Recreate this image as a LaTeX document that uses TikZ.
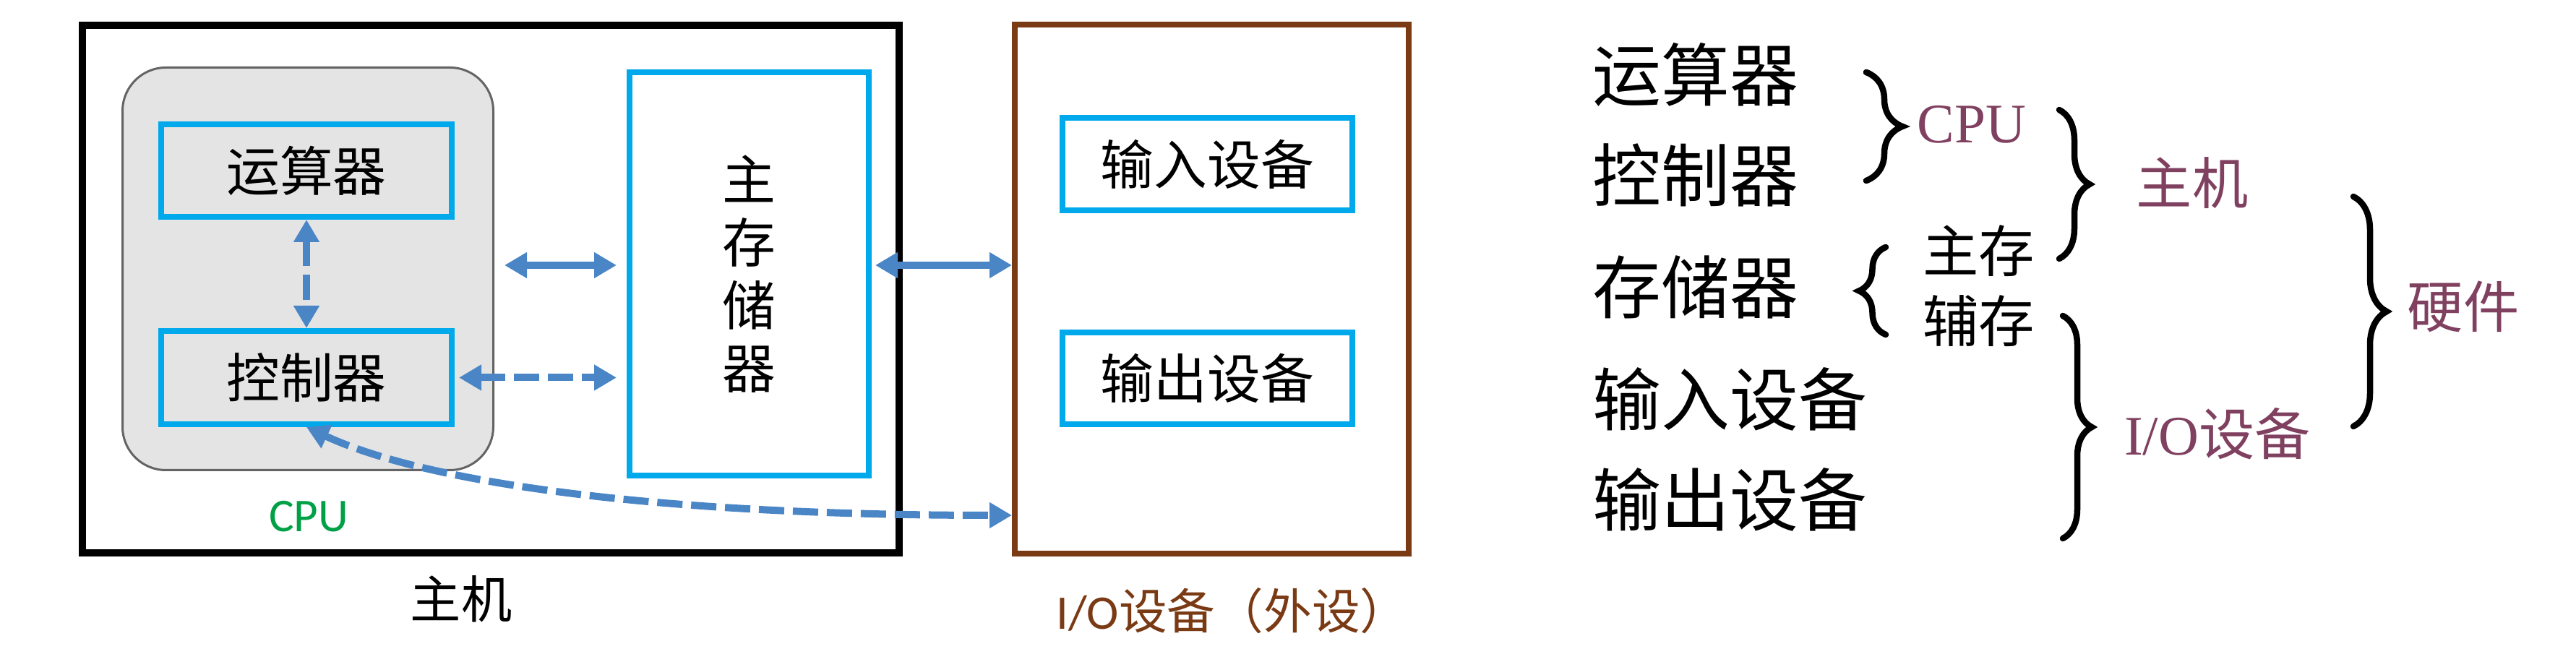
\documentclass[tikz,border=0pt]{standalone}
\usepackage{fontspec}
\setmainfont{Liberation Serif}
\newfontfamily\cjk{Noto Sans CJK SC}
\newfontfamily\calibri{Carlito}
\usetikzlibrary{positioning}
\usetikzlibrary{arrows.meta}
\usetikzlibrary{decorations.pathreplacing}
\definecolor{unitc}{RGB}{0,168,236}
\definecolor{linkc}{RGB}{74,134,198}
\definecolor{cpufillc}{RGB}{228,228,228}
\definecolor{cpudrawc}{RGB}{100,100,100}
\definecolor{cpulabelc}{RGB}{0,160,70}
\definecolor{ioc}{RGB}{122,58,20}
\definecolor{classc}{RGB}{128,64,96}

\tikzset{
  unitbox/.style={draw=unitc, line width=0.08cm, shape=rectangle, minimum width=4.02cm, minimum height=1.28cm, font=\cjk\fontsize{21pt}{25pt}\selectfont},
  link/.style={draw=linkc, line width=0.1cm, {Triangle[width=0.34cm,length=0.31cm]}-{Triangle[width=0.34cm,length=0.31cm]}},
  dashlink/.style={link, dash pattern=on 0.35cm off 0.12cm},
  bigtext/.style={anchor=west, inner sep=0pt, font=\cjk\fontsize{27pt}{32pt}\selectfont},
  grouptext/.style={inner sep=0pt, text=classc, font=\cjk\fontsize{22pt}{26pt}\selectfont},
  bracket/.style={decorate, line width=0.085cm, line cap=round, decoration={brace, amplitude=#1}},
}

\begin{document}
\begin{tikzpicture}
\useasboundingbox (0,0) rectangle (35.64,-9.16);

% host side
\node[draw=black, line width=0.1cm, shape=rectangle, minimum width=11.30cm, minimum height=7.30cm]
(host) at (6.79,-4.00) {};
\node[draw=cpudrawc, fill=cpufillc, line width=0.03cm, rounded corners=0.6cm, minimum width=5.13cm, minimum height=5.57cm]
(cpu) at (4.26,-3.72) {};
\node[unitbox] (alu) at (4.24,-2.36) {运算器};
\node[unitbox, minimum height=1.29cm] (cu) at (4.24,-5.225) {控制器};
\node[draw=unitc, line width=0.08cm, shape=rectangle, minimum width=3.31cm, minimum height=5.58cm, align=center,
  font=\cjk\fontsize{21pt}{24.8pt}\selectfont]
(mem) at (10.365,-3.79) {主\\存\\储\\器};
\node[text=cpulabelc, font=\calibri\fontsize{18.5pt}{22pt}\selectfont] (cpulabel) at (4.27,-7.15) {CPU};
\node[font=\cjk\fontsize{20pt}{24pt}\selectfont] (hostlabel) at (6.38,-8.29) {主机};

% i/o side
\node[draw=ioc, line width=0.08cm, shape=rectangle, minimum width=5.45cm, minimum height=7.32cm]
(io) at (16.765,-4.00) {};
\node[unitbox, minimum width=4.01cm] (inp) at (16.705,-2.27) {输入设备};
\node[unitbox, minimum width=4.01cm, minimum height=1.27cm] (outp) at (16.705,-5.235) {输出设备};
\node[text=ioc, font=\fontsize{19pt}{23pt}\selectfont] (iolabel) at (17.05,-8.45) {{\calibri I/O}{\cjk 设备（外设）}};

% links
\draw[dashlink] (alu.south) -- (cu.north);
\draw[link, shorten <=0.14cm, shorten >=0.14cm] ([yshift=0.05cm]cpu.east) -- ([yshift=0.05cm]cpu.east -| mem.west);
\draw[dashlink, shorten <=0.06cm, shorten >=0.14cm] (cu.east) -- (cu.east -| mem.west);
\draw[link, shorten <=0.05cm] ([yshift=0.12cm]mem.east) -- ([yshift=0.12cm]mem.east -| io.west);
\draw[dashlink] (cu.south) to[out=-25, in=180, out distance=1.8cm, in distance=5cm] ([yshift=-3.13cm]io.west);

% classification
\node[bigtext] (alut) at (22.03,-1.03) {运算器};
\node[bigtext] (cut) at (22.03,-2.42) {控制器};
\node[bigtext] (memt) at (22.03,-3.97) {存储器};
\node[bigtext] (inpt) at (22.03,-5.52) {输入设备};
\node[bigtext] (outpt) at (22.03,-6.91) {输出设备};

\draw[bracket=0.5cm] (25.82,-1.00) -- (25.82,-2.50);
\node[grouptext, font=\rmfamily\fontsize{22pt}{26pt}\selectfont] (cpug) at (27.28,-1.72) {CPU};

\draw[bracket=0.37cm] (26.09,-4.63) -- (26.09,-3.42);
\node[inner sep=0pt, font=\cjk\fontsize{22pt}{26pt}\selectfont] (mainm) at (27.375,-3.47) {主存};
\node[inner sep=0pt, font=\cjk\fontsize{22pt}{26pt}\selectfont] (auxm) at (27.375,-4.44) {辅存};

\draw[bracket=0.42cm] (28.49,-1.52) -- (28.49,-3.58);
\node[grouptext] (hostg) at (30.33,-2.53) {主机};

\draw[bracket=0.40cm] (28.54,-4.37) -- (28.54,-7.45);
\node[grouptext] (iog) at (30.68,-6.00) {{\rmfamily I/O}设备};

\draw[bracket=0.46cm] (32.56,-2.72) -- (32.56,-5.90);
\node[grouptext] (hwg) at (34.08,-4.24) {硬件};

\end{tikzpicture}
\end{document}
